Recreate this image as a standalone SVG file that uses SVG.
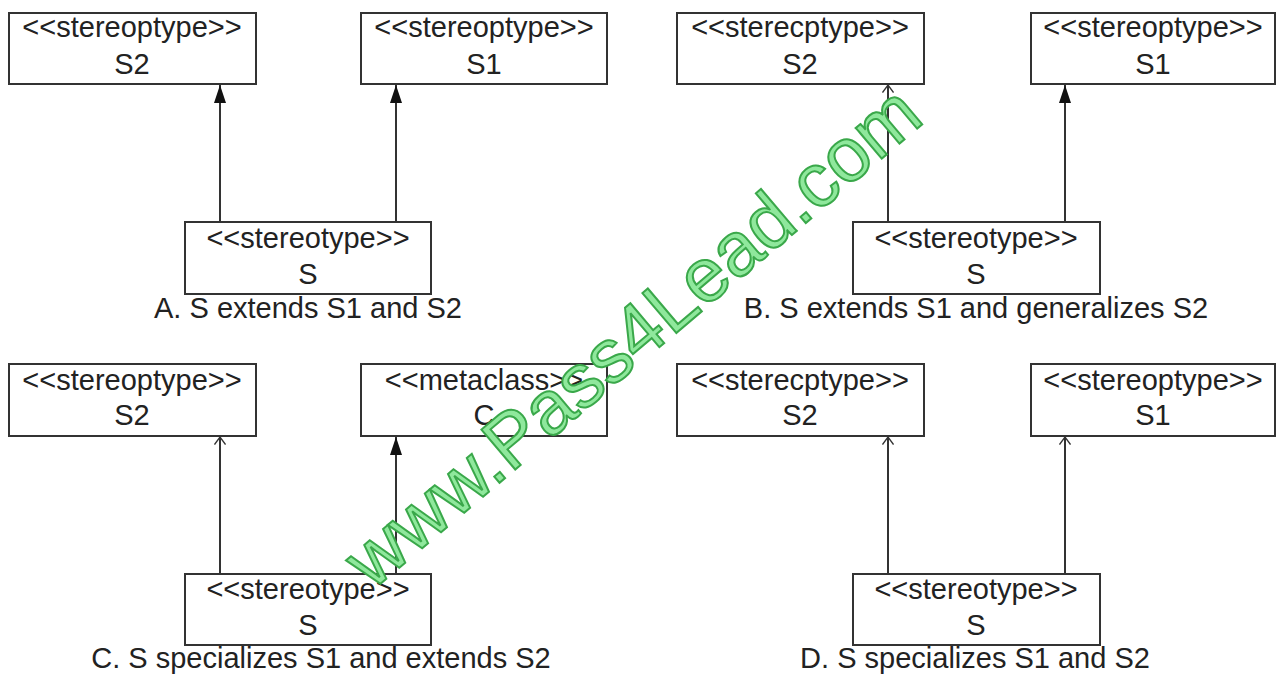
<svg xmlns="http://www.w3.org/2000/svg" width="1277" height="678" viewBox="0 0 1277 678">
<defs>
<style>
.box{fill:#fff;stroke:#333;stroke-width:2}
.t{font-family:"Liberation Sans",Arial,sans-serif;font-size:29px;fill:#222;text-anchor:middle}
.cap{font-family:"Liberation Sans",Arial,sans-serif;font-size:29px;fill:#222;text-anchor:middle}
.ln{stroke:#333;stroke-width:2;fill:none}
.wm{font-family:"Liberation Sans",Arial,sans-serif;font-size:76px;fill:#8fe89c;stroke:#3aa84a;stroke-width:2;text-anchor:middle}
</style>
<marker id="filled" viewBox="0 0 18 12" refX="18" refY="6" markerWidth="18" markerHeight="12" markerUnits="userSpaceOnUse" orient="auto">
<path d="M0,0 L18,6 L0,12 Z" fill="#111"/>
</marker>
<marker id="open" viewBox="0 0 8 12" refX="7.5" refY="6" markerWidth="8" markerHeight="12" markerUnits="userSpaceOnUse" orient="auto">
<path d="M0,0.5 L7.5,6 L0,11.5" fill="none" stroke="#333" stroke-width="1.3"/>
</marker>
</defs>
<rect width="1277" height="678" fill="#fff"/>
<g id="connectors">
<line class="ln" x1="220" y1="222" x2="220" y2="85" marker-end="url(#filled)"/>
<line class="ln" x1="396" y1="222" x2="396" y2="85" marker-end="url(#filled)"/>
<line class="ln" x1="888" y1="222" x2="888" y2="85" marker-end="url(#open)"/>
<line class="ln" x1="1065" y1="222" x2="1065" y2="85" marker-end="url(#filled)"/>
<line class="ln" x1="220" y1="574" x2="220" y2="437" marker-end="url(#open)"/>
<line class="ln" x1="396" y1="574" x2="396" y2="437" marker-end="url(#filled)"/>
<line class="ln" x1="888" y1="574" x2="888" y2="437" marker-end="url(#open)"/>
<line class="ln" x1="1065" y1="574" x2="1065" y2="437" marker-end="url(#open)"/>
</g>
<g id="a-s2"><rect class="box" x="9" y="13" width="247" height="71"/><text class="t" x="132" y="37">&lt;&lt;stereoptype&gt;&gt;</text><text class="t" x="132" y="74">S2</text></g>
<g id="a-s1"><rect class="box" x="361" y="13" width="246" height="71"/><text class="t" x="484" y="37">&lt;&lt;stereoptype&gt;&gt;</text><text class="t" x="484" y="74">S1</text></g>
<g id="a-s"><rect class="box" x="185" y="222" width="246" height="72"/><text class="t" x="308" y="248">&lt;&lt;stereotype&gt;&gt;</text><text class="t" x="308" y="284">S</text></g>
<text class="cap" x="308" y="318">A. S extends S1 and S2</text>
<g id="b-s2"><rect class="box" x="677" y="13" width="247" height="71"/><text class="t" x="800" y="37">&lt;&lt;sterecptype&gt;&gt;</text><text class="t" x="800" y="74">S2</text></g>
<g id="b-s1"><rect class="box" x="1031" y="13" width="244" height="71"/><text class="t" x="1153" y="37">&lt;&lt;stereoptype&gt;&gt;</text><text class="t" x="1153" y="74">S1</text></g>
<g id="b-s"><rect class="box" x="853" y="222" width="247" height="72"/><text class="t" x="976" y="248">&lt;&lt;stereotype&gt;&gt;</text><text class="t" x="976" y="284">S</text></g>
<text class="cap" x="976" y="318">B. S extends S1 and generalizes S2</text>
<g id="c-s2"><rect class="box" x="9" y="364" width="247" height="72"/><text class="t" x="132" y="390">&lt;&lt;stereoptype&gt;&gt;</text><text class="t" x="132" y="425">S2</text></g>
<g id="c-c"><rect class="box" x="361" y="364" width="246" height="72"/><text class="t" x="484" y="390">&lt;&lt;metaclass&gt;&gt;</text><text class="t" x="484" y="425">C</text></g>
<g id="c-s"><rect class="box" x="185" y="574" width="246" height="71"/><text class="t" x="308" y="599">&lt;&lt;stereotype&gt;&gt;</text><text class="t" x="308" y="635">S</text></g>
<text class="cap" x="321" y="668">C. S specializes S1 and extends S2</text>
<g id="d-s2"><rect class="box" x="677" y="364" width="247" height="72"/><text class="t" x="800" y="390">&lt;&lt;sterecptype&gt;&gt;</text><text class="t" x="800" y="425">S2</text></g>
<g id="d-s1"><rect class="box" x="1031" y="364" width="244" height="72"/><text class="t" x="1153" y="390">&lt;&lt;stereoptype&gt;&gt;</text><text class="t" x="1153" y="425">S1</text></g>
<g id="d-s"><rect class="box" x="853" y="574" width="247" height="71"/><text class="t" x="976" y="599">&lt;&lt;stereotype&gt;&gt;</text><text class="t" x="976" y="635">S</text></g>
<text class="cap" x="975" y="668">D. S specializes S1 and S2</text>
<text class="wm" transform="translate(649,356) rotate(-40.3)">www.Pass4Lead.com</text>
</svg>
